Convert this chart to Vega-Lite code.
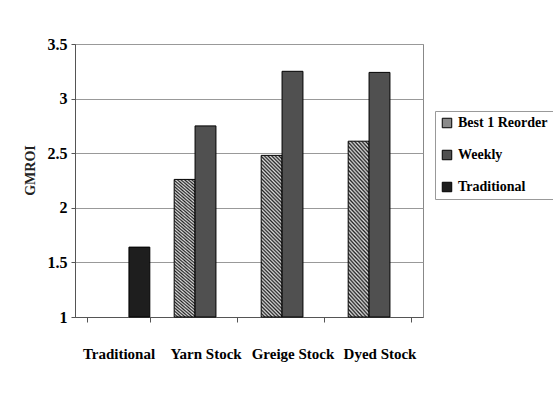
{
  "$schema": "https://vega.github.io/schema/vega-lite/v6.json",
  "width": 348,
  "height": 273,
  "autosize": {"type": "none"},
  "padding": {"left": 75, "top": 44, "right": 130, "bottom": 84},
  "background": "white",
  "data": {"values": [
    {"category": "Traditional", "series": "Traditional", "value": 1.64},
    {"category": "Yarn Stock", "series": "Best 1 Reorder", "value": 2.26},
    {"category": "Yarn Stock", "series": "Weekly", "value": 2.75},
    {"category": "Greige Stock", "series": "Best 1 Reorder", "value": 2.48},
    {"category": "Greige Stock", "series": "Weekly", "value": 3.25},
    {"category": "Dyed Stock", "series": "Best 1 Reorder", "value": 2.61},
    {"category": "Dyed Stock", "series": "Weekly", "value": 3.24}
  ]},
  "mark": {"type": "bar", "stroke": "black", "strokeWidth": 1},
  "encoding": {
    "x": {
      "field": "category", "type": "nominal",
      "sort": ["Traditional", "Yarn Stock", "Greige Stock", "Dyed Stock"],
      "scale": {"paddingInner": 0.28, "paddingOuter": 0.14},
      "axis": {
        "title": null, "labelAngle": 0, "tickBand": "extent", "tickSize": 5,
        "labelPadding": 24, "labelFont": "Liberation Serif", "labelFontSize": 15,
        "labelFontWeight": "bold", "labelColor": "black",
        "domainColor": "#555", "tickColor": "#555", "grid": false
      }
    },
    "xOffset": {
      "field": "series", "type": "nominal",
      "scale": {"domain": ["Best 1 Reorder", "Weekly", "Traditional"], "paddingInner": 0, "paddingOuter": 0}
    },
    "y": {
      "field": "value", "type": "quantitative",
      "scale": {"domain": [1, 3.5], "nice": false, "zero": false},
      "axis": {
        "title": "GMROI", "values": [1, 1.5, 2, 2.5, 3, 3.5], "format": "~g",
        "labelFont": "Liberation Serif", "labelFontSize": 16, "labelFontWeight": "bold",
        "labelColor": "black", "tickSize": 4, "labelPadding": 4,
        "titleFont": "Liberation Serif", "titleFontSize": 14, "titleFontWeight": "bold",
        "titleColor": "#222", "titlePadding": 10, "titleY": 126,
        "domainColor": "#555", "tickColor": "#555", "gridColor": "#999", "grid": true
      }
    },
    "y2": {"datum": 1},
    "fill": {
      "field": "series", "type": "nominal",
      "scale": {"domain": ["Best 1 Reorder", "Weekly", "Traditional"], "range": ["#8a8a8a", "#505050", "#1e1e1e"]},
      "condition": {
        "test": "datum.series === 'Best 1 Reorder'",
        "value": {
          "gradient": "linear", "x1": 0, "y1": 1, "x2": 0.1443, "y2": -0.111,
          "stops": [
            {"offset": 0.00, "color": "#222"}, {"offset": 0.01, "color": "#ddd"},
            {"offset": 0.02, "color": "#222"}, {"offset": 0.03, "color": "#ddd"},
            {"offset": 0.04, "color": "#222"}, {"offset": 0.05, "color": "#ddd"},
            {"offset": 0.06, "color": "#222"}, {"offset": 0.07, "color": "#ddd"},
            {"offset": 0.08, "color": "#222"}, {"offset": 0.09, "color": "#ddd"},
            {"offset": 0.10, "color": "#222"}, {"offset": 0.11, "color": "#ddd"},
            {"offset": 0.12, "color": "#222"}, {"offset": 0.13, "color": "#ddd"},
            {"offset": 0.14, "color": "#222"}, {"offset": 0.15, "color": "#ddd"},
            {"offset": 0.16, "color": "#222"}, {"offset": 0.17, "color": "#ddd"},
            {"offset": 0.18, "color": "#222"}, {"offset": 0.19, "color": "#ddd"},
            {"offset": 0.20, "color": "#222"}, {"offset": 0.21, "color": "#ddd"},
            {"offset": 0.22, "color": "#222"}, {"offset": 0.23, "color": "#ddd"},
            {"offset": 0.24, "color": "#222"}, {"offset": 0.25, "color": "#ddd"},
            {"offset": 0.26, "color": "#222"}, {"offset": 0.27, "color": "#ddd"},
            {"offset": 0.28, "color": "#222"}, {"offset": 0.29, "color": "#ddd"},
            {"offset": 0.30, "color": "#222"}, {"offset": 0.31, "color": "#ddd"},
            {"offset": 0.32, "color": "#222"}, {"offset": 0.33, "color": "#ddd"},
            {"offset": 0.34, "color": "#222"}, {"offset": 0.35, "color": "#ddd"},
            {"offset": 0.36, "color": "#222"}, {"offset": 0.37, "color": "#ddd"},
            {"offset": 0.38, "color": "#222"}, {"offset": 0.39, "color": "#ddd"},
            {"offset": 0.40, "color": "#222"}, {"offset": 0.41, "color": "#ddd"},
            {"offset": 0.42, "color": "#222"}, {"offset": 0.43, "color": "#ddd"},
            {"offset": 0.44, "color": "#222"}, {"offset": 0.45, "color": "#ddd"},
            {"offset": 0.46, "color": "#222"}, {"offset": 0.47, "color": "#ddd"},
            {"offset": 0.48, "color": "#222"}, {"offset": 0.49, "color": "#ddd"},
            {"offset": 0.50, "color": "#222"}, {"offset": 0.51, "color": "#ddd"},
            {"offset": 0.52, "color": "#222"}, {"offset": 0.53, "color": "#ddd"},
            {"offset": 0.54, "color": "#222"}, {"offset": 0.55, "color": "#ddd"},
            {"offset": 0.56, "color": "#222"}, {"offset": 0.57, "color": "#ddd"},
            {"offset": 0.58, "color": "#222"}, {"offset": 0.59, "color": "#ddd"},
            {"offset": 0.60, "color": "#222"}, {"offset": 0.61, "color": "#ddd"},
            {"offset": 0.62, "color": "#222"}, {"offset": 0.63, "color": "#ddd"},
            {"offset": 0.64, "color": "#222"}, {"offset": 0.65, "color": "#ddd"},
            {"offset": 0.66, "color": "#222"}, {"offset": 0.67, "color": "#ddd"},
            {"offset": 0.68, "color": "#222"}, {"offset": 0.69, "color": "#ddd"},
            {"offset": 0.70, "color": "#222"}, {"offset": 0.71, "color": "#ddd"},
            {"offset": 0.72, "color": "#222"}, {"offset": 0.73, "color": "#ddd"},
            {"offset": 0.74, "color": "#222"}, {"offset": 0.75, "color": "#ddd"},
            {"offset": 0.76, "color": "#222"}, {"offset": 0.77, "color": "#ddd"},
            {"offset": 0.78, "color": "#222"}, {"offset": 0.79, "color": "#ddd"},
            {"offset": 0.80, "color": "#222"}, {"offset": 0.81, "color": "#ddd"},
            {"offset": 0.82, "color": "#222"}, {"offset": 0.83, "color": "#ddd"},
            {"offset": 0.84, "color": "#222"}, {"offset": 0.85, "color": "#ddd"},
            {"offset": 0.86, "color": "#222"}, {"offset": 0.87, "color": "#ddd"},
            {"offset": 0.88, "color": "#222"}, {"offset": 0.89, "color": "#ddd"},
            {"offset": 0.90, "color": "#222"}, {"offset": 0.91, "color": "#ddd"},
            {"offset": 0.92, "color": "#222"}, {"offset": 0.93, "color": "#ddd"},
            {"offset": 0.94, "color": "#222"}, {"offset": 0.95, "color": "#ddd"},
            {"offset": 0.96, "color": "#222"}, {"offset": 0.97, "color": "#ddd"},
            {"offset": 0.98, "color": "#222"}, {"offset": 0.99, "color": "#ddd"},
            {"offset": 1.00, "color": "#222"}
          ]
        }
      },
      "legend": {
        "title": null, "orient": "none", "legendX": 360, "legendY": 67,
        "padding": 5, "strokeColor": "#999", "rowPadding": 18,
        "symbolType": "square", "symbolSize": 90,
        "symbolStrokeColor": "black", "symbolStrokeWidth": 1,
        "labelFont": "Liberation Serif", "labelFontSize": 14, "labelFontWeight": "bold",
        "labelColor": "black", "labelOffset": 4
      }
    }
  },
  "config": {
    "view": {"stroke": "#888"},
    "font": "Liberation Serif"
  }
}
